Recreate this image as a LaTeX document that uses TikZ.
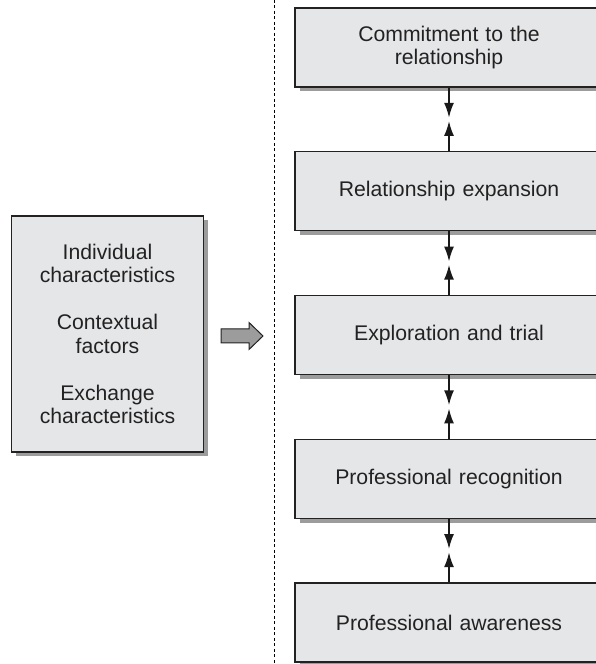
\documentclass[tikz,border=0pt]{standalone}
\usepackage{fontspec}
\setmainfont{Liberation Sans}
\usepackage{tikz}
\usetikzlibrary{arrows.meta,calc,shadows}
\definecolor{boxgray}{HTML}{E5E6E8}
\definecolor{edgegray}{HTML}{222222}
\definecolor{shadowgray}{HTML}{9C9C9C}
\tikzstyle{stage}=[draw=edgegray,line width=1.3pt,fill=boxgray,minimum width=308pt,minimum height=79pt,text width=295pt,align=center,text=edgegray,font=\fontsize{21.2}{23.5}\selectfont,drop shadow={shadow xshift=4.5pt,shadow yshift=-4.5pt,fill=shadowgray,opacity=1}]
\tikzstyle{factorbox}=[stage,minimum width=191pt,minimum height=236pt,text width=185pt]
\tikzstyle{link}=[line width=2pt,draw=black!90,-{Latex[length=15pt,width=10pt]}]

\begin{document}
\begin{tikzpicture}[x=1pt,y=1pt]
      \useasboundingbox (0,0) rectangle (595,664);

      % dashed divider
      \draw[line width=0.8pt,dash pattern=on 3pt off 2.5pt] (274,664) -- (274,0);

      \foreach \i/\txt in {1/{Commitment to the\\relationship},2/Relationship expansion,3/Exploration and trial,4/Professional recognition,5/Professional awareness}{
        \node[stage] (s\i) at (449,{616.5-143.75*(\i-1)}) {\txt};
      }

      \foreach \i in {1,...,4}{
        \pgfmathsetmacro{\j}{int(\i+1)}
        \coordinate (m\i) at ($(s\i.south)!.5!(s\j.north)$);
        \draw[link] (s\i.south) -- ([yshift=1.5pt]m\i);
        \draw[link] (s\j.north) -- ([yshift=-1.5pt]m\i);
      }

      \node[factorbox] (f) at (107.5,330) {Individual\\characteristics\\[23.5pt]Contextual\\factors\\[23.5pt]Exchange\\characteristics};

      % block arrow
      \draw[draw=edgegray,line width=1pt,fill=shadowgray] (221,321) -- (249,321) -- (249,314.5) -- (263,328) -- (249,341.5) -- (249,335) -- (221,335) -- cycle;
    \end{tikzpicture}
\end{document}
